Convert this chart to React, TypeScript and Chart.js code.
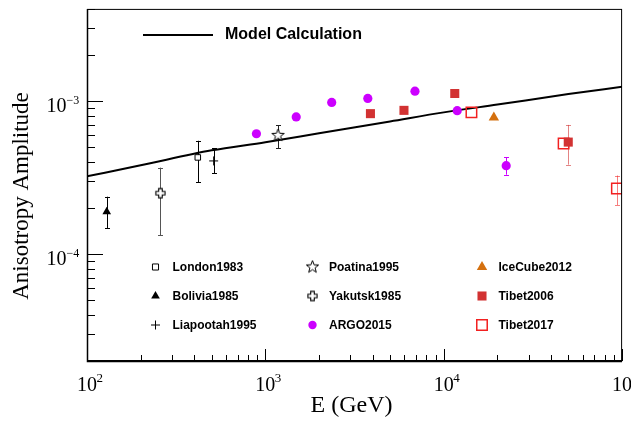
import React, { useEffect, useRef } from "react";
import { Chart, registerables } from "chart.js";
import { drawPoint } from "chart.js/helpers";

Chart.register(...registerables);

// ---------- data ----------
const modelE = [100, 200, 500, 1000, 2000, 5000, 10000, 20000, 50000, 100000];
const modelA = [3.22e-4, 3.8e-4, 4.76e-4, 5.38e-4, 6.16e-4, 7.36e-4, 8.43e-4, 9.48e-4, 1.11e-3, 1.24e-3];

const londonE = [418];
const londonA = [4.28e-4];
const londonLo = [2.94e-4];
const londonHi = [5.5e-4];

const boliviaE = [129];
const boliviaA = [1.89e-4];
const boliviaLo = [1.48e-4];
const boliviaHi = [2.37e-4];

const liapootahE = [513];
const liapootahA = [4.06e-4];
const liapootahLo = [3.37e-4];
const liapootahHi = [4.9e-4];

const poatinaE = [1178];
const poatinaA = [5.96e-4];
const poatinaLo = [4.92e-4];
const poatinaHi = [6.92e-4];

const yakutskE = [258];
const yakutskA = [2.5e-4];
const yakutskLo = [1.33e-4];
const yakutskHi = [3.67e-4];

const argoE = [891, 1489, 2355, 3752, 6898, 11900, 22400];
const argoA = [6.11e-4, 7.87e-4, 9.79e-4, 1.04e-3, 1.16e-3, 8.65e-4, 3.78e-4];
const argoLo = [null, null, null, null, null, null, 3.3e-4];
const argoHi = [null, null, null, null, null, null, 4.28e-4];

const icecubeE = [19100];
const icecubeA = [7.79e-4];

const tibet2006E = [3882, 5985, 11530, 49900];
const tibet2006A = [8.27e-4, 8.69e-4, 1.12e-3, 5.39e-4];
const tibet2006Lo = [null, null, null, 3.84e-4];
const tibet2006Hi = [null, null, null, 6.98e-4];

const tibet2017E = [14300, 47000, 93500];
const tibet2017A = [8.43e-4, 5.28e-4, 2.68e-4];
const tibet2017Lo = [null, null, 2.09e-4];
const tibet2017Hi = [null, null, 3.26e-4];

const xDecades = [2, 3, 4, 5];
const yDecades = [-4, -3];

const pts = (xs: number[], ys: number[]) => xs.map((x, i) => ({ x, y: ys[i] }));

function makeStar(): HTMLCanvasElement {
  const c = document.createElement("canvas");
  c.width = 15;
  c.height = 15;
  const g = c.getContext("2d")!;
  g.beginPath();
  for (let i = 0; i < 10; i++) {
    const r = i % 2 === 0 ? 6.5 : 2.7;
    const a = -Math.PI / 2 + (i * Math.PI) / 5;
    g.lineTo(7.5 + r * Math.cos(a), 7.5 + r * Math.sin(a));
  }
  g.closePath();
  g.fillStyle = "#fff";
  g.fill();
  g.strokeStyle = "#000";
  g.lineWidth = 1;
  g.stroke();
  return c;
}

function makeOpenCross(): HTMLCanvasElement {
  const c = document.createElement("canvas");
  c.width = 13;
  c.height = 13;
  const g = c.getContext("2d")!;
  const w = 1.8, L = 4.6, o = 6.5;
  const p = [
    [-w, -L], [w, -L], [w, -w], [L, -w], [L, w], [w, w],
    [w, L], [-w, L], [-w, w], [-L, w], [-L, -w], [-w, -w],
  ];
  g.beginPath();
  p.forEach(([x, y], i) => (i === 0 ? g.moveTo(o + x, o + y) : g.lineTo(o + x, o + y)));
  g.closePath();
  g.fillStyle = "#fff";
  g.fill();
  g.strokeStyle = "#000";
  g.lineWidth = 1.1;
  g.stroke();
  return c;
}

const SERIF = '"Liberation Serif", "Times New Roman", serif';
const SANS = '"Liberation Sans", Arial, Helvetica, sans-serif';

const rootPlugin = {
  id: "rootStyle",
  beforeDatasetsDraw(chart: any) {
    const ctx = chart.ctx as CanvasRenderingContext2D;
    const xs = chart.scales.x, ys = chart.scales.y;
    ctx.save();
    chart.data.datasets.forEach((ds: any) => {
      if (!ds.errLo) return;
      ctx.strokeStyle = ds.errColor || "#000";
      ctx.lineWidth = 1;
      ds.data.forEach((p: any, i: number) => {
        const lo = ds.errLo[i], hi = ds.errHi[i];
        if (lo == null || hi == null) return;
        const px = Math.round(xs.getPixelForValue(p.x)) + 0.5;
        const y1 = ys.getPixelForValue(lo);
        const y2 = ys.getPixelForValue(hi);
        ctx.beginPath();
        ctx.moveTo(px, y1);
        ctx.lineTo(px, y2);
        ctx.moveTo(px - 2.5, Math.round(y1) + 0.5);
        ctx.lineTo(px + 2.5, Math.round(y1) + 0.5);
        ctx.moveTo(px - 2.5, Math.round(y2) + 0.5);
        ctx.lineTo(px + 2.5, Math.round(y2) + 0.5);
        ctx.stroke();
      });
    });
    ctx.restore();
  },
  afterDraw(chart: any) {
    const ctx = chart.ctx as CanvasRenderingContext2D;
    const xs = chart.scales.x, ys = chart.scales.y;
    const { left, right, top, bottom } = chart.chartArea;
    ctx.save();
    // frame
    ctx.strokeStyle = "#000";
    ctx.lineWidth = 1;
    ctx.strokeRect(left + 0.5, top + 0.5, right - left - 1, bottom - top - 1);
    ctx.lineWidth = 1.5;
    ctx.beginPath();
    ctx.moveTo(left + 0.5, top);
    ctx.lineTo(left + 0.5, bottom + 0.5);
    ctx.lineTo(right, bottom + 0.5);
    ctx.stroke();

    // x ticks
    ctx.lineWidth = 1;
    ctx.beginPath();
    for (let d = 2; d <= 5; d++) {
      for (let m = 1; m <= 9; m++) {
        const v = m * Math.pow(10, d);
        if (v > 1e5 * 1.0001) break;
        const px = Math.round(xs.getPixelForValue(v)) + 0.5;
        const len = m === 1 ? 12 : 6;
        ctx.moveTo(px, bottom);
        ctx.lineTo(px, bottom - len);
      }
    }
    // y ticks
    for (let d = -5; d <= -3; d++) {
      for (let m = 1; m <= 9; m++) {
        const v = m * Math.pow(10, d);
        if (v < 2e-5 * 0.9999 || v > 4e-3 * 1.0001) continue;
        const py = Math.round(ys.getPixelForValue(v)) + 0.5;
        const len = m === 1 ? 16 : 8;
        ctx.moveTo(left, py);
        ctx.lineTo(left + len, py);
      }
    }
    ctx.stroke();

    // tick labels
    ctx.fillStyle = "#000";
    ctx.textBaseline = "alphabetic";
    xDecades.forEach((d) => {
      const px = xs.getPixelForValue(Math.pow(10, d));
      ctx.font = `20px ${SERIF}`;
      ctx.textAlign = "center";
      ctx.fillText("10", px, 391);
      ctx.font = `13px ${SERIF}`;
      ctx.textAlign = "left";
      ctx.fillText(String(d), px + 9.5, 382);
    });
    yDecades.forEach((d) => {
      const py = ys.getPixelForValue(Math.pow(10, d));
      ctx.font = `20px ${SERIF}`;
      ctx.textAlign = "right";
      ctx.fillText("10", 66.5, py + 11);
      ctx.font = `12px ${SERIF}`;
      ctx.textAlign = "left";
      ctx.fillText("\u2212" + String(-d), 66.5, py + 2.5);
    });

    // axis titles
    ctx.font = `24px ${SERIF}`;
    ctx.textAlign = "center";
    ctx.textBaseline = "middle";
    ctx.fillText("E (GeV)", (left + right) / 2 - 3, 406);
    ctx.save();
    ctx.translate(22, 196);
    ctx.rotate(-Math.PI / 2);
    ctx.font = `23px ${SERIF}`;
    ctx.fillText("Anisotropy Amplitude", 0, 0);
    ctx.restore();

    // legend: model line
    ctx.strokeStyle = "#000";
    ctx.lineWidth = 2;
    ctx.beginPath();
    ctx.moveTo(143, 35);
    ctx.lineTo(213, 35);
    ctx.stroke();
    ctx.font = `bold 16px ${SANS}`;
    ctx.textAlign = "left";
    ctx.textBaseline = "middle";
    ctx.fillText("Model Calculation", 225, 35);

    // legend grid
    const colMarker = [155.5, 312.5, 482];
    const colText = [172.5, 329, 498.5];
    const rowY = [267, 296, 325];
    ctx.font = `bold 12px ${SANS}`;
    chart.data.datasets.forEach((ds: any) => {
      if (ds.legendPos == null) return;
      const [c, r] = ds.legendPos;
      const mx = colMarker[c], my = rowY[r];
      ctx.save();
      ctx.fillStyle = ds.legendFill || ds.pointBackgroundColor;
      ctx.strokeStyle = ds.pointBorderColor;
      ctx.lineWidth = ds.pointBorderWidth;
      drawPoint(ctx, {
        pointStyle: ds.pointStyle,
        radius: ds.legendRadius || ds.pointRadius,
        rotation: 0,
        borderWidth: ds.pointBorderWidth,
      } as any, mx, my);
      ctx.restore();
      ctx.fillStyle = "#000";
      ctx.fillText(ds.label, colText[c], my + 1);
    });
    ctx.restore();
  },
};

export default function App() {
  const ref = useRef<HTMLCanvasElement>(null);

  useEffect(() => {
    const star = makeStar();
    const openCross = makeOpenCross();
    const chart = new Chart(ref.current!, {
      type: "scatter",
      data: {
        datasets: [
          {
            label: "Tibet2006",
            data: pts(tibet2006E, tibet2006A),
            pointStyle: "rect",
            pointRadius: 6.4,
            pointBackgroundColor: "#d23232",
            pointBorderColor: "#d23232",
            pointBorderWidth: 0,
            errLo: tibet2006Lo,
            errHi: tibet2006Hi,
            errColor: "rgba(210,50,50,0.6)",
            legendPos: [2, 1],
          } as any,
          {
            label: "Tibet2017",
            data: pts(tibet2017E, tibet2017A),
            pointStyle: "rect",
            pointRadius: 7.4,
            pointBackgroundColor: "rgba(255,255,255,0)",
            legendFill: "rgba(255,255,255,0)",
            pointBorderColor: "#f22020",
            pointBorderWidth: 1.5,
            errLo: tibet2017Lo,
            errHi: tibet2017Hi,
            errColor: "rgba(240,40,40,0.6)",
            legendPos: [2, 2],
          } as any,
          {
            label: "ARGO2015",
            data: pts(argoE, argoA),
            pointStyle: "circle",
            pointRadius: 4.6,
            pointBackgroundColor: "#cc00ff",
            pointBorderColor: "#cc00ff",
            pointBorderWidth: 0,
            errLo: argoLo,
            errHi: argoHi,
            errColor: "#cc00ff",
            legendPos: [1, 2],
            legendRadius: 4.2,
          } as any,
          {
            label: "IceCube2012",
            data: pts(icecubeE, icecubeA),
            pointStyle: "triangle",
            pointRadius: 6,
            pointBackgroundColor: "#d4700f",
            pointBorderColor: "#d4700f",
            pointBorderWidth: 0,
            legendPos: [2, 0],
          } as any,
          {
            label: "Poatina1995",
            data: pts(poatinaE, poatinaA),
            pointStyle: star,
            pointRadius: 6,
            pointBackgroundColor: "#fff",
            pointBorderColor: "#000",
            pointBorderWidth: 1,
            errLo: poatinaLo,
            errHi: poatinaHi,
            errColor: "#222",
            legendPos: [1, 0],
          } as any,
          {
            label: "Yakutsk1985",
            data: pts(yakutskE, yakutskA),
            pointStyle: openCross,
            pointRadius: 5,
            pointBackgroundColor: "#fff",
            pointBorderColor: "#000",
            pointBorderWidth: 1,
            errLo: yakutskLo,
            errHi: yakutskHi,
            errColor: "#555",
            legendPos: [1, 1],
          } as any,
          {
            label: "London1983",
            data: pts(londonE, londonA),
            pointStyle: "rect",
            pointRadius: 3.9,
            pointBackgroundColor: "#fff",
            pointBorderColor: "#000",
            pointBorderWidth: 1,
            errLo: londonLo,
            errHi: londonHi,
            errColor: "#000",
            legendPos: [0, 0],
            legendRadius: 4.3,
          } as any,
          {
            label: "Bolivia1985",
            data: pts(boliviaE, boliviaA),
            pointStyle: "triangle",
            pointRadius: 5,
            pointBackgroundColor: "#000",
            pointBorderColor: "#000",
            pointBorderWidth: 0,
            errLo: boliviaLo,
            errHi: boliviaHi,
            errColor: "#000",
            legendPos: [0, 1],
          } as any,
          {
            label: "Liapootah1995",
            data: pts(liapootahE, liapootahA),
            pointStyle: "cross",
            pointRadius: 4.5,
            pointBackgroundColor: "#000",
            pointBorderColor: "#000",
            pointBorderWidth: 1,
            errLo: liapootahLo,
            errHi: liapootahHi,
            errColor: "#000",
            legendPos: [0, 2],
          } as any,
          {
            type: "line",
            label: "Model Calculation",
            data: pts(modelE, modelA),
            borderColor: "#000",
            borderWidth: 2,
            pointRadius: 0,
            showLine: true,
            fill: false,
            cubicInterpolationMode: "monotone",
          } as any,
        ],
      },
      options: {
        responsive: false,
        animation: false,
        devicePixelRatio: 1,
        layout: { padding: { left: 0, right: 6, top: 7, bottom: 0 } },
        plugins: { legend: { display: false }, tooltip: { enabled: false } },
        scales: {
          x: {
            type: "logarithmic",
            min: 100,
            max: 100000,
            grid: { display: false },
            border: { display: false },
            ticks: { display: false },
            afterFit: (s: any) => {
              s.height = 61;
            },
          },
          y: {
            type: "logarithmic",
            min: 2e-5,
            max: 4e-3,
            grid: { display: false },
            border: { display: false },
            ticks: { display: false },
            afterFit: (s: any) => {
              s.width = 87;
            },
          },
        },
      },
      plugins: [rootPlugin],
    });
    return () => chart.destroy();
  }, []);

  return (
    <div style={{ position: "absolute", left: 0, top: 0, width: 631, height: 422, background: "#fff" }}>
      <canvas ref={ref} width={631} height={422} style={{ display: "block" }} />
    </div>
  );
}
